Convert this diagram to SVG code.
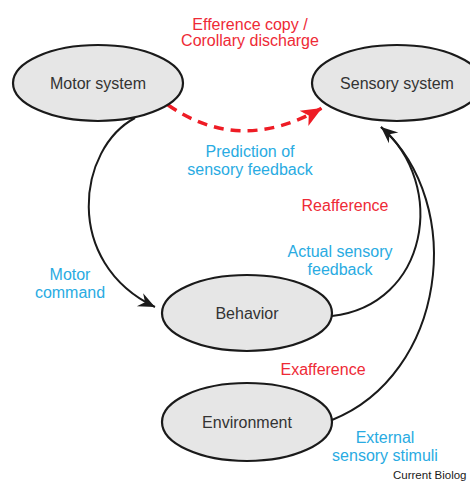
<svg xmlns="http://www.w3.org/2000/svg" width="470" height="482" viewBox="0 0 470 482">
<style>
.node{fill:#e6e6e6;stroke:#1a1a1a;stroke-width:2.2}
.nt{font-family:"Liberation Sans",Arial,sans-serif;font-size:16px;fill:#333;text-anchor:middle}
.lbl{font-family:"Liberation Sans",Arial,sans-serif;font-size:16px;text-anchor:middle}
.red{fill:#ee2a36}
.blue{fill:#29abe2}
.conn{fill:none;stroke:#1a1a1a;stroke-width:2}
.dash{fill:none;stroke:#ee1c25;stroke-width:3.5;stroke-dasharray:10,7}
</style>
<defs>
<marker id="ah" markerUnits="userSpaceOnUse" markerWidth="20" markerHeight="20" viewBox="-16 -8 18 16" refX="0" refY="0" orient="auto">
<path d="M0,0 L-15,-6.5 L-10,0 L-15,6.5 Z" fill="#1a1a1a"/>
</marker>
<marker id="ahr" markerUnits="userSpaceOnUse" markerWidth="24" markerHeight="24" viewBox="-20 -10 22 20" refX="0" refY="0" orient="auto">
<path d="M0,0 L-19,-8 L-14,0 L-19,8 Z" fill="#ee1c25"/>
</marker>
</defs>
<g id="connectors">
<path class="dash" d="M168,105 Q240,155 322,108" marker-end="url(#ahr)"/>
<path class="conn" d="M135,118 C78,148 62,262 155,307" marker-end="url(#ah)"/>
<path class="conn" d="M332,316 C428,305 448,185 381,127" marker-end="url(#ah)"/>
<path class="conn" d="M332,420 C445,375 468,205 381,127"/>
</g>
<g id="motor"><ellipse class="node" cx="98" cy="83" rx="85" ry="38"/><text class="nt" x="98" y="89">Motor system</text></g>
<g id="sensory"><ellipse class="node" cx="397" cy="83" rx="85" ry="38"/><text class="nt" x="397" y="89">Sensory system</text></g>
<g id="behavior"><ellipse class="node" cx="247" cy="313" rx="85" ry="38"/><text class="nt" x="247" y="319">Behavior</text></g>
<g id="environment"><ellipse class="node" cx="247" cy="422" rx="85" ry="39"/><text class="nt" x="247" y="428">Environment</text></g>
<g id="labels">
<text class="lbl red" x="250" y="30">Efference copy /</text>
<text class="lbl red" x="250" y="46">Corollary discharge</text>
<text class="lbl blue" x="250" y="157">Prediction of</text>
<text class="lbl blue" x="250" y="175">sensory feedback</text>
<text class="lbl red" x="345" y="211">Reafference</text>
<text class="lbl blue" x="340" y="257">Actual sensory</text>
<text class="lbl blue" x="340" y="275">feedback</text>
<text class="lbl blue" x="70" y="280">Motor</text>
<text class="lbl blue" x="70" y="298">command</text>
<text class="lbl red" x="323" y="375">Exafference</text>
<text class="lbl blue" x="385" y="443">External</text>
<text class="lbl blue" x="385" y="461">sensory stimuli</text>
<text x="393" y="479" font-family="'Liberation Sans',Arial,sans-serif" font-size="11.5" fill="#1a1a1a">Current Biolog</text>
</g>
</svg>
